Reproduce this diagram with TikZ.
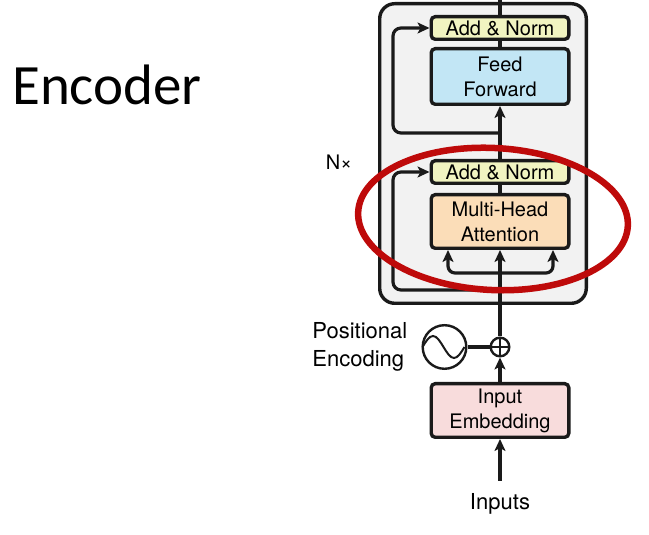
\documentclass[tikz,border=0pt]{standalone}
\usepackage{fontspec}
\setmainfont{TeX Gyre Heros}
\newfontfamily\titlefont{Carlito}
\usepackage{tikz}
\usetikzlibrary{bayesnet,positioning,arrows.meta}

\definecolor{normfill}{HTML}{F1F4C1}
\definecolor{ffwdfill}{HTML}{C2E6F5}
\definecolor{attnfill}{HTML}{FBDDB8}
\definecolor{embfill}{HTML}{F8DCDC}
\definecolor{layerfill}{HTML}{F2F2F2}
\definecolor{linecol}{HTML}{1A1A1A}
\definecolor{markred}{HTML}{BE0A0A}

\tikzset{
  block/.style={draw=linecol, line width=3.4pt, rounded corners=4pt, minimum width=137.6pt,
    align=center, font=\fontsize{20}{25}\selectfont, inner sep=0pt},
  norm/.style={block, fill=normfill, minimum height=22.6pt},
  ffwd/.style={block, fill=ffwdfill, minimum height=55.6pt},
  attn/.style={block, fill=attnfill, minimum height=53.6pt},
  emb/.style={block, fill=embfill, minimum height=53.6pt},
  txt/.style={font=\fontsize{22}{28}\selectfont, align=left, inner sep=0pt},
  arr/.style={-{Stealth[length=12pt,width=11pt,inset=3pt]}, line width=3.2pt, draw=linecol},
  wire/.style={-, line width=3.2pt, draw=linecol},
}

\begin{document}
\begin{tikzpicture}[x=1pt, y=1pt]
  \useasboundingbox (0,0) rectangle (649,535);

  \node (Layer) [draw=linecol, fill=layerfill, line width=3.4pt, rounded corners=15pt,
    minimum width=206.6pt, minimum height=299.6pt] at (483,381.5) {};

  \node (MHA) [attn] at (500,313.5) {Multi-Head\\Attention};
  \node (AN1) [norm, above=8pt of MHA] {Add \& Norm};
  \node (FF) [ffwd, above=53pt of AN1] {Feed\\Forward};
  \node (AN2) [norm, above=6pt of FF] {Add \& Norm};

  \node (Plus) [circle, draw=linecol, line width=2.4pt, minimum size=18.6pt, inner sep=0pt,
    path picture={\draw[line width=2pt]
      (path picture bounding box.north) -- (path picture bounding box.south)
      (path picture bounding box.west) -- (path picture bounding box.east);}] at (500,188) {};
  \node (IE) [emb, below=24.5pt of Plus] {Input\\Embedding};
  \node (In) [txt, below=54pt of IE] {Inputs};
  \node (PE) [circle, draw=linecol, line width=2.4pt, minimum size=43.6pt, left=22pt of Plus] {};
  \node (PEtxt) [txt, left=14pt of PE] {Positional\\Encoding};
  \node (Nx) [txt, font=\fontsize{20}{24}\selectfont] at (339,373) {N×};
  \node (Title) [anchor=base west, inner sep=0pt, font=\titlefont\fontsize{57}{68}\selectfont]
    at (12,430) {Encoder};

  \draw [line width=2pt, draw=linecol] ([xshift=1pt]PE.west) sin ++(10.5,11) cos ++(10.5,-11)
    sin ++(10.5,-11) cos ++(10.5,11);

  \edge [arr, shorten <=12pt] {In} {IE};
  \edge [arr] {IE} {Plus};
  \edge [wire] {PE} {Plus};
  \edge [arr] {Plus} {MHA};
  \edge [wire] {MHA} {AN1};
  \edge [arr] {AN1} {FF};
  \edge [wire] {FF} {AN2};

  \coordinate (Out) at (500,540);
  \draw [wire] (AN2) -- (Out);

  \coordinate (Split) at (500,262);
  \draw [arr, rounded corners=7pt] (Split) -| ([xshift=-52pt]MHA.south);
  \draw [arr, rounded corners=7pt] (Split) -| ([xshift=53pt]MHA.south);

  \coordinate (Res1) at (500,245);
  \coordinate (Res1L) at (393,245);
  \draw [arr, rounded corners=8pt] (Res1) -- (Res1L) |- (AN1.west);
  \coordinate (Res2) at (500,402);
  \coordinate (Res2L) at (393,402);
  \draw [arr, rounded corners=8pt] (Res2) -- (Res2L) |- (AN2.west);

  \draw [markred, line width=6.5pt, rotate around={-3:(493,316)}]
    (493,316) ellipse [x radius=135, y radius=71];

\end{tikzpicture}
\end{document}
